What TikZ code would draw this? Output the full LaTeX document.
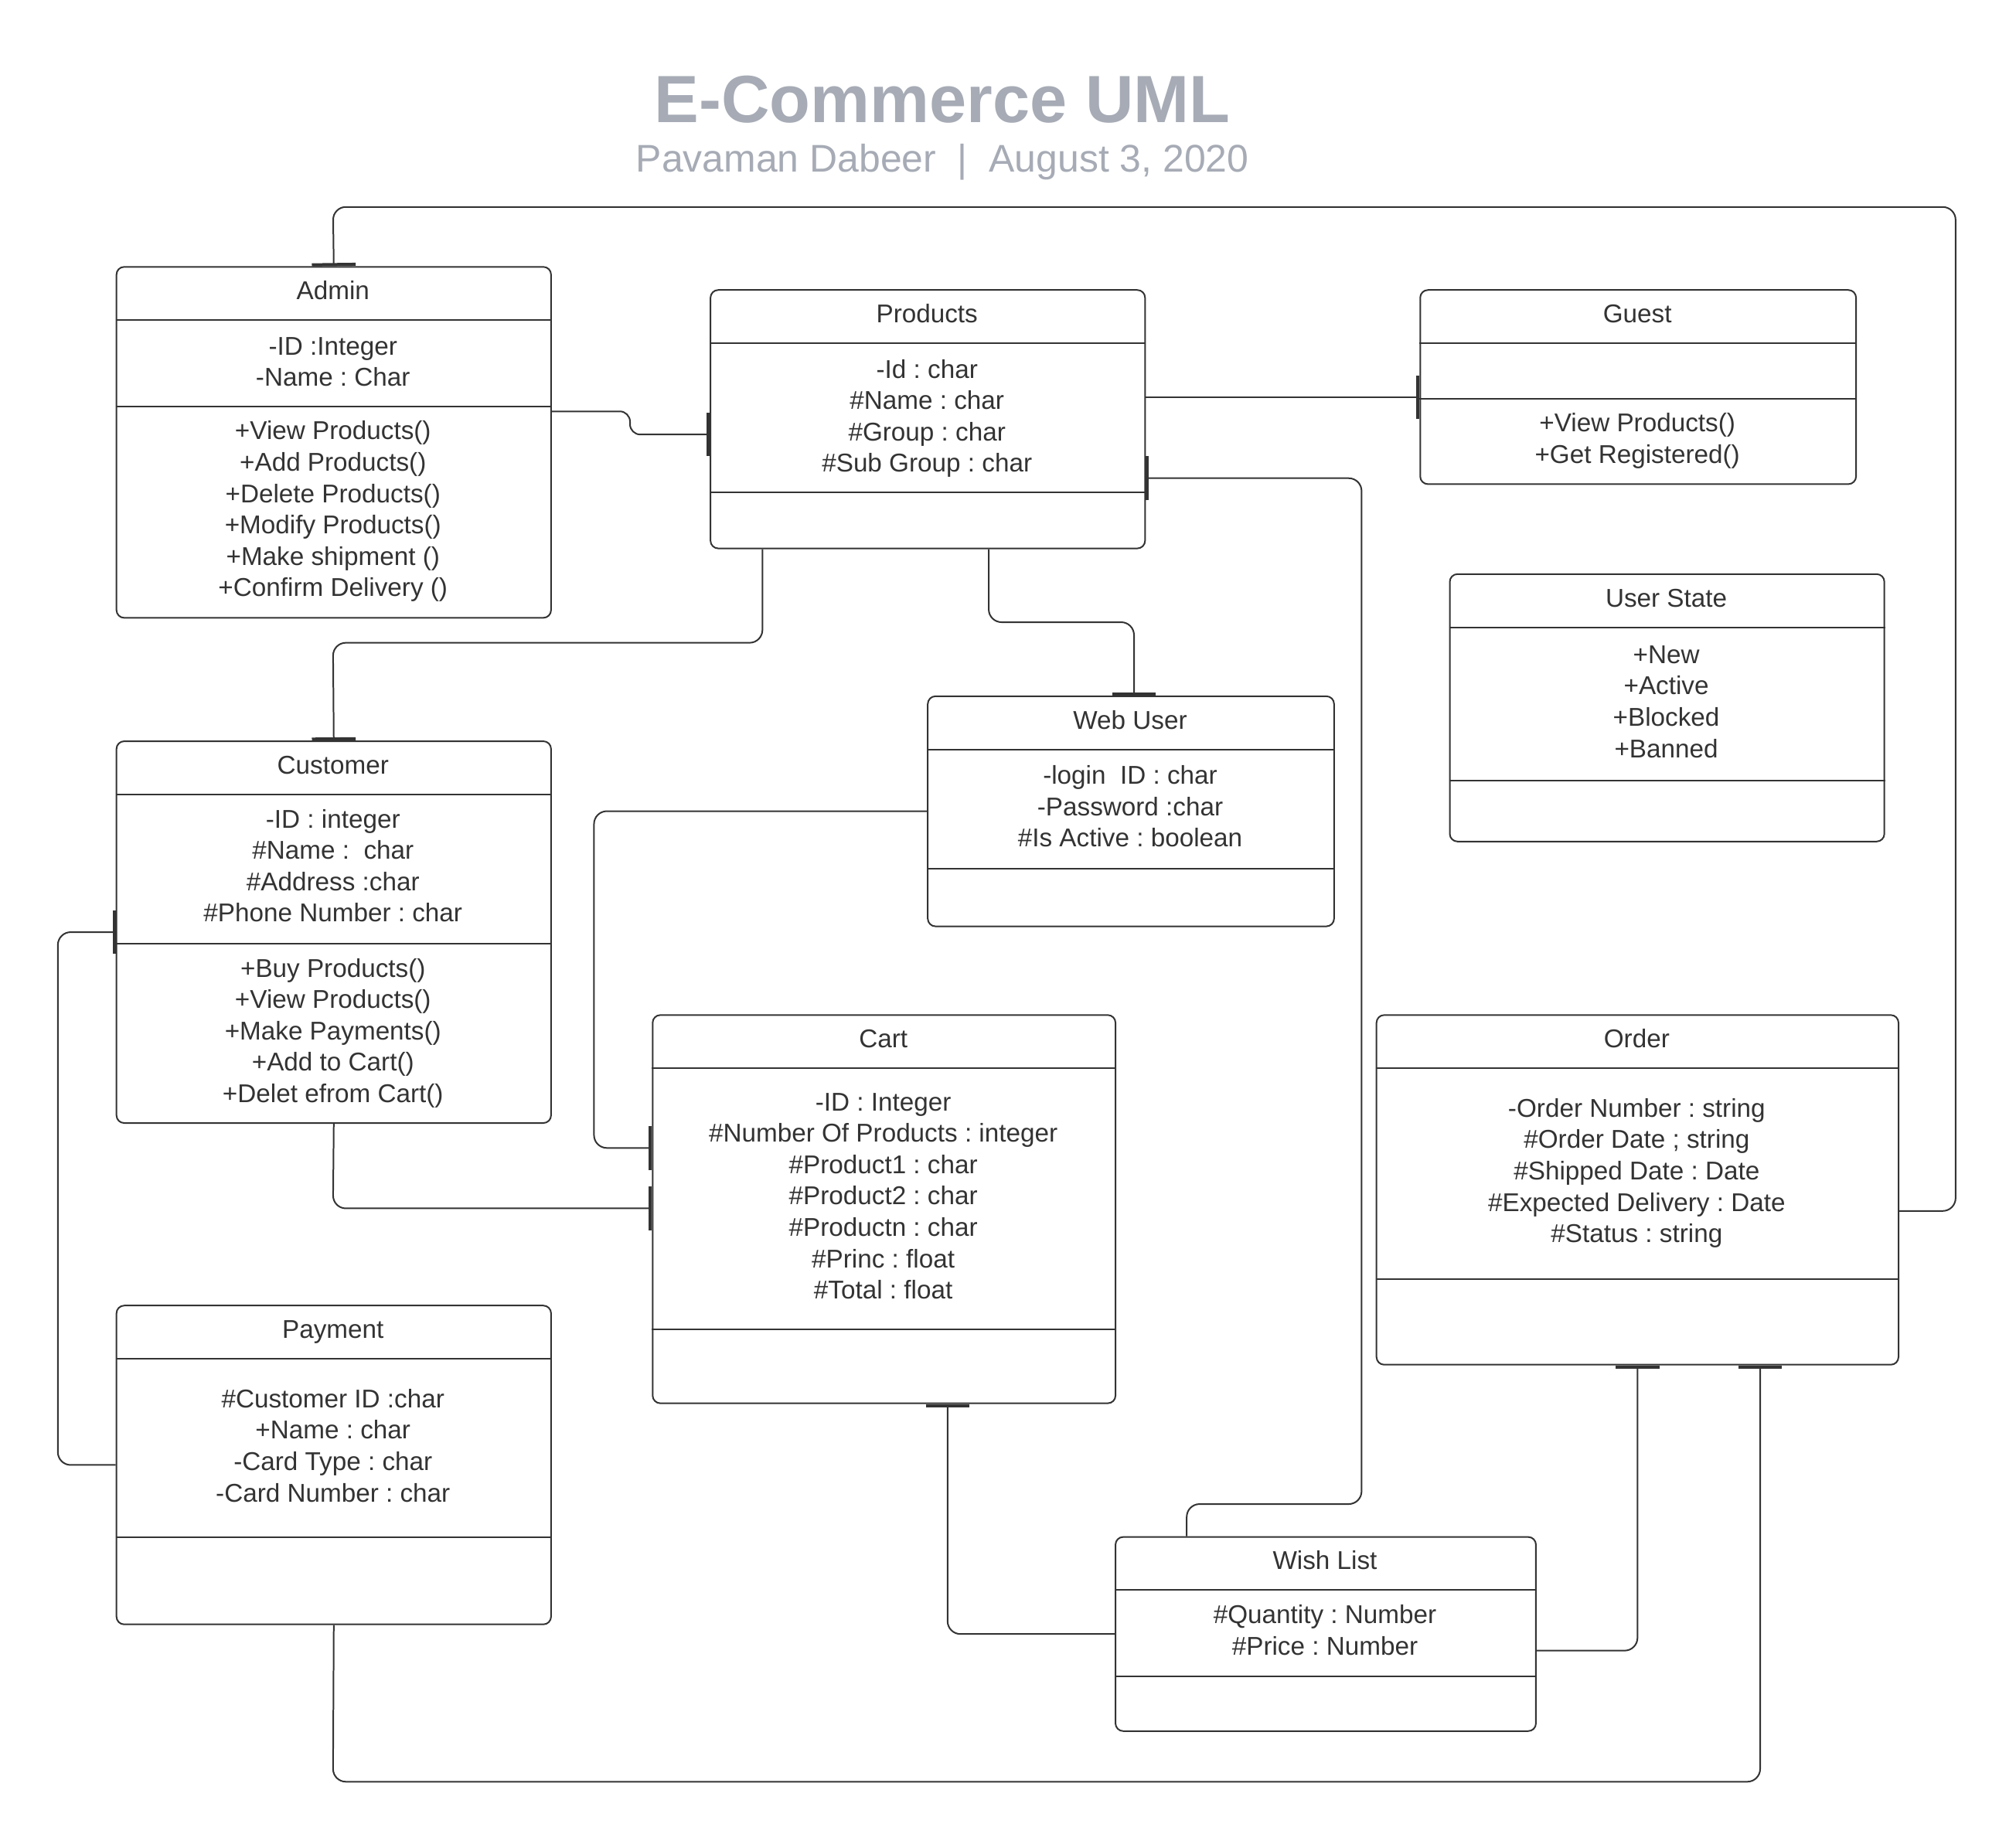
\documentclass[tikz,border=0pt]{standalone}
\usepackage{fontspec}
\setmainfont{Liberation Sans}
\usetikzlibrary{arrows.meta,calc}
\definecolor{ink}{HTML}{333333}
\definecolor{ttl}{HTML}{A6ABB5}
\frenchspacing
\newcommand\umlcls[6]{%
  \node[clsbox, minimum width=#4pt, minimum height=#5pt] (#1) at (#2,#3) {};
  \foreach \d in {#6} {\draw[divider] (#1.west |- 0,\d) -- (#1.east |- 0,\d);}
}
\newcommand\umllns[4]{%
  \foreach \l [count=\i from 0] in {#4} {\node[tx] (#1-\i) at (#2,{#3+\i*24.4}) {\l};}
}
\begin{document}
\begin{tikzpicture}[x=1pt,y=-1pt,
  clsbox/.style={draw=ink, line width=1.2pt, rounded corners=6pt, inner sep=0pt, anchor=north west, fill=white},
  divider/.style={draw=ink, line width=1.2pt},
  tx/.style={text=ink, font=\fontsize{20}{24}\selectfont\frenchspacing, anchor=base, inner sep=0pt},
  conn/.style={draw=ink, line width=1.2pt, rounded corners=10pt},
  tob/.style={-{Bar[width=34pt,line width=2.4pt]}},
  frb/.style={{Bar[width=34pt,line width=2.4pt]}-}
]
\fill[white] (0,0) rectangle (1568,1432);
\useasboundingbox (0,0) rectangle (1568,1432);

\node[font=\fontsize{52}{60}\selectfont\bfseries, text=ttl, anchor=base, inner sep=0pt] (title) at (733,95) {E-Commerce UML};
\node[font=\fontsize{30}{36}\selectfont\frenchspacing, text=ttl, anchor=base, inner sep=0pt] (subtitle) at (733,134) {Pavaman Dabeer\ \ |\ \ August 3, 2020};

% classes
\umlcls{admin}{90}{207}{338}{273}{249,316}
\umllns{admin-t}{259}{233}{Admin}
\umllns{admin-a}{259}{276}{-ID :Integer,-Name : Char}
\umllns{admin-m}{259}{342}{+View Products(),+Add Products(),+Delete Products(),+Modify Products(),+Make shipment (),+Confirm Delivery ()}

\umlcls{products}{552}{225}{338}{201}{267,383}
\umllns{products-t}{721}{251}{Products}
\umllns{products-a}{721}{294}{-Id : char,\#Name : char,\#Group : char,\#Sub Group : char}

\umlcls{guest}{1104}{225}{339}{151}{267,310}
\umllns{guest-t}{1273.5}{251}{Guest}
\umllns{guest-m}{1273.5}{336}{+View Products(),+Get Registered()}

\umlcls{userstate}{1127}{446}{338}{208}{488,607}
\umllns{userstate-t}{1296}{472}{User State}
\umllns{userstate-a}{1296}{516}{+New,+Active,+Blocked,+Banned}

\umlcls{webuser}{721}{541}{316}{179}{583,676}
\umllns{webuser-t}{879}{567}{Web User}
\umllns{webuser-a}{879}{610}{-login\ \ ID : char,-Password :char,\#Is Active : boolean}

\umlcls{customer}{90}{576}{338}{297}{618,734}
\umllns{customer-t}{259}{602}{Customer}
\umllns{customer-a}{259}{644}{-ID : integer,\#Name :\ \ char,\#Address :char,\#Phone Number : char}
\umllns{customer-m}{259}{760}{+Buy Products(),+View Products(),+Make Payments(),+Add to Cart(),+Delet efrom Cart()}

\umlcls{cart}{507}{789}{360}{302}{831,1034}
\umllns{cart-t}{687}{815}{Cart}
\umllns{cart-a}{687}{864}{-ID : Integer,\#Number Of Products : integer,\#Product1 : char,\#Product2 : char,\#Productn : char,\#Princ : float,\#Total : float}

\umlcls{order}{1070}{789}{406}{272}{831,995}
\umllns{order-t}{1273}{815}{Order}
\umllns{order-a}{1273}{869}{-Order Number : string,\#Order Date ; string,\#Shipped Date : Date,\#Expected Delivery : Date,\#Status : string}

\umlcls{payment}{90}{1015}{338}{248}{1057,1196}
\umllns{payment-t}{259}{1041}{Payment}
\umllns{payment-a}{259}{1095}{\#Customer ID :char,+Name : char,-Card Type : char,-Card Number : char}

\umlcls{wishlist}{867}{1195}{327}{151}{1237,1304}
\umllns{wishlist-t}{1030.5}{1221}{Wish List}
\umllns{wishlist-a}{1030.5}{1263}{\#Quantity : Number,\#Price : Number}

% connectors
\draw[conn,frb] (admin.north) -- (259,161) -- (1521,161) -- (1521,942) -- (order.east |- 0,942);
\draw[conn,tob,rounded corners=8pt] (admin.east |- 0,320) -- (490,320) -- (490,338) -- (products.west |- 0,338);
\draw[conn,tob] (products.east |- 0,309) -- (guest.west |- 0,309);
\draw[conn,frb] (products.east |- 0,372) -- (1059,372) -- (1059,1170) -- (923,1170) -- (wishlist.north -| 923,0);
\draw[conn,tob] (products.south -| 593,0) -- (593,500) -- (259,500) -- (customer.north);
\draw[conn,tob] (products.south -| 769,0) -- (769,484) -- (882,484) -- (webuser.north -| 882,0);
\draw[conn,tob] (webuser.west |- 0,631) -- (462,631) -- (462,893) -- (cart.west |- 0,893);
\draw[conn,tob] (customer.south) -- (259,940) -- (cart.west |- 0,940);
\draw[conn,frb] (customer.west) -- ++(-45,0) |- (payment.west);
\draw[conn,frb] (cart.south -| 737,0) |- (wishlist.west);
\draw[conn,tob] (wishlist.east |- 0,1284) -| (order.south);
\draw[conn,tob] (payment.south) -- (259,1386) -| (order.south -| 1369,0);
\end{tikzpicture}
\end{document}
